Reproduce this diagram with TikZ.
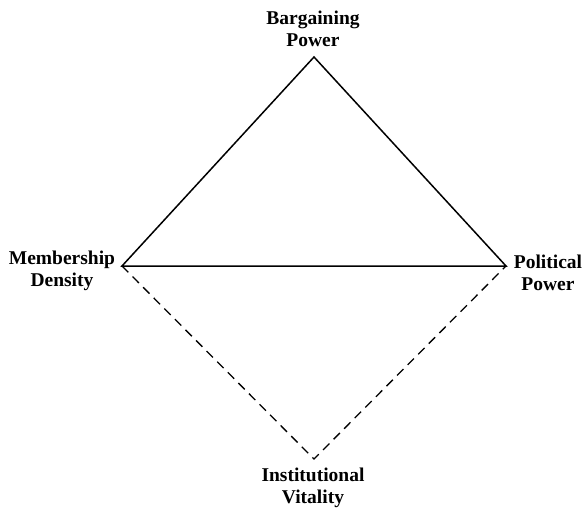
\documentclass[tikz,border=0pt]{standalone}
\usepackage{fontspec}
\setmainfont{Liberation Serif}
\begin{document}
\begin{tikzpicture}[x=1pt,y=-1pt,
  lbl/.style={font=\bfseries\fontsize{19.5}{22}\selectfont, align=center, inner sep=0pt},
  solidedge/.style={line width=1.5pt},
  dashedge/.style={line width=1.3pt, dash pattern=on 9pt off 6pt}]
\useasboundingbox[fill=white] (0,0) rectangle (585,508);
\coordinate (T) at (314,57);
\coordinate (L) at (122,266);
\coordinate (R) at (506,266);
\coordinate (B) at (314,459);
\draw[solidedge, line join=miter] (L) -- (T) -- (R) -- cycle;
\draw[dashedge] (L) -- (B) -- (R);
\node[lbl] (tl) at (313,29) {Bargaining\\Power};
\node[lbl] (ll) at (62,271) {Membership\\Density};
\node[lbl] (rl) at (548,273) {Political\\Power};
\node[lbl] (bl) at (313,488) {Institutional\\Vitality};
\end{tikzpicture}
\end{document}
